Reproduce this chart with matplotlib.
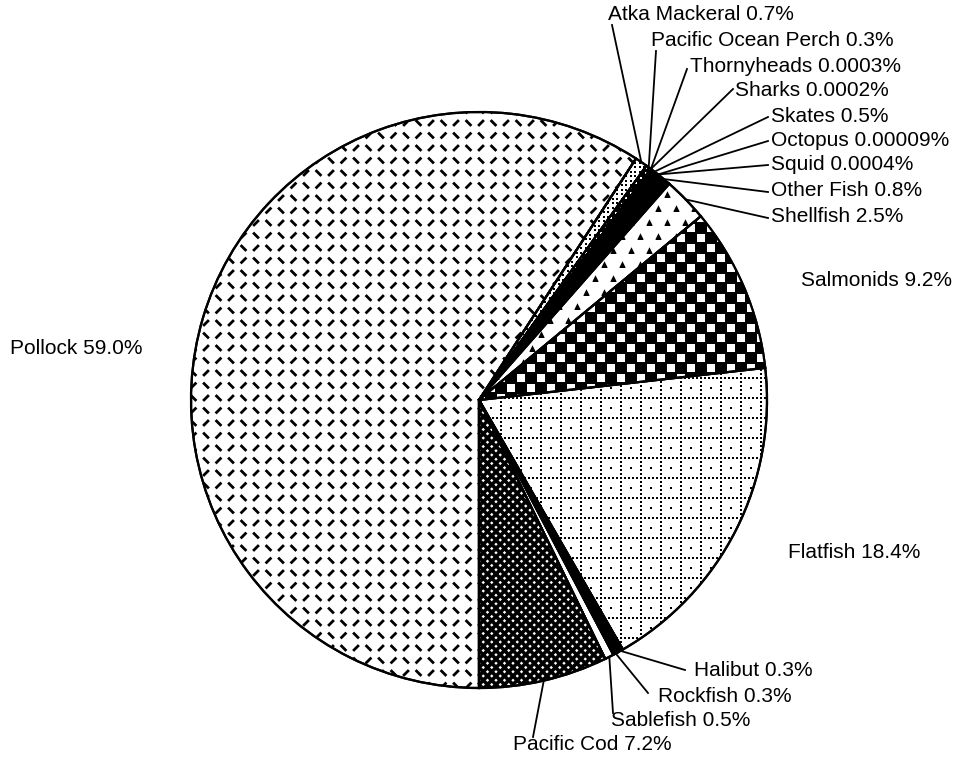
import numpy as np
import matplotlib
matplotlib.use("Agg")
import matplotlib.pyplot as plt
from matplotlib.patches import Wedge
from matplotlib.collections import LineCollection

# ---------------- data ----------------
categories = ["Pollock", "Atka Mackeral", "Pacific Ocean Perch", "Thornyheads",
              "Sharks", "Skates", "Octopus", "Squid", "Other Fish", "Shellfish",
              "Salmonids", "Flatfish", "Halibut", "Rockfish", "Sablefish",
              "Pacific Cod"]
shares = [59.0, 0.7, 0.3, 0.0003, 0.0002, 0.5, 0.00009, 0.0004, 0.8, 2.5,
          9.2, 18.4, 0.3, 0.3, 0.5, 7.2]
share_text = ["59.0%", "0.7%", "0.3%", "0.0003%", "0.0002%", "0.5%", "0.00009%",
              "0.0004%", "0.8%", "2.5%", "9.2%", "18.4%", "0.3%", "0.3%", "0.5%",
              "7.2%"]

# ---------------- layout (pixel coords, y from top) ----------------
W, H = 956, 762
CX, CY, R = 479, H - 400, 288
label_layout = {
    "Pollock": (10, 349, None),
    "Atka Mackeral": (608, 14, (612, 25)),
    "Pacific Ocean Perch": (651, 41, (656, 51)),
    "Thornyheads": (690, 67, (687, 69)),
    "Sharks": (735, 91, (733, 89)),
    "Skates": (771, 117, (768, 117)),
    "Octopus": (771, 141, (768, 141)),
    "Squid": (771, 165, (768, 165)),
    "Other Fish": (771, 191, (768, 192)),
    "Shellfish": (771, 217, (768, 218)),
    "Salmonids": (801, 280, None),
    "Flatfish": (788, 553, None),
    "Halibut": (694, 671, (685, 670)),
    "Rockfish": (658, 696, (648, 693)),
    "Sablefish": (611, 720, (613, 713)),
    "Pacific Cod": (513, 745, (533, 737)),
}
face = {
    "Pollock": "white", "Atka Mackeral": "white", "Pacific Ocean Perch": "black",
    "Thornyheads": "black", "Sharks": "black", "Skates": "black",
    "Octopus": "black", "Squid": "black", "Other Fish": "black",
    "Shellfish": "white", "Salmonids": "black", "Flatfish": "white",
    "Halibut": "black", "Rockfish": "black", "Sablefish": "white",
    "Pacific Cod": "white",
}

fig = plt.figure(figsize=(W / 100, H / 100), dpi=100)
ax = fig.add_axes([0, 0, 1, 1])
wedges, _ = ax.pie(shares, startangle=-90, counterclock=False, center=(CX, CY),
                   radius=R, colors=[face[c] for c in categories],
                   wedgeprops=dict(edgecolor="black", linewidth=1.6))
ax.set_xlim(0, W)
ax.set_ylim(0, H)
ax.set_aspect("equal")
ax.axis("off")

wmap = dict(zip(categories, wedges))
x0, x1 = CX - R - 10, CX + R + 10
y0, y1 = CY - R - 10, CY + R + 10


def grid(step, offset=0.0):
    xs = np.arange(x0, x1, step) + offset
    ys = np.arange(y0, y1, step) + offset
    return np.meshgrid(xs, ys)


# Pollock: alternating short dashes
s = 12.5
L = 2.9
segs = []
for i, x in enumerate(np.arange(x0, x1, s)):
    for j, y in enumerate(np.arange(y0, y1, s)):
        d = 1 if (i + j) % 2 == 0 else -1
        segs.append([(x - L, y - L * d), (x + L, y + L * d)])
lc = LineCollection(segs, colors="black", linewidths=2.0, zorder=2)
lc.set_clip_path(wmap["Pollock"])
ax.add_collection(lc)

# Salmonids: black with white checker squares
gx, gy = grid(10.0)
ii = np.round((gx - x0) / 10).astype(int)
jj = np.round((gy - y0) / 10).astype(int)
m = (ii + jj) % 2 == 0
sc = ax.scatter(gx[m], gy[m], marker="s", s=28, color="white", linewidths=0, zorder=2)
sc.set_clip_path(wmap["Salmonids"])

# Flatfish: dotted grid with center dots
pts = []
step = 20.0
for y in np.arange(y0, y1, step):
    for x in np.arange(x0, x1, 4.0):
        pts.append((x, y))
for x in np.arange(x0, x1, step):
    for y in np.arange(y0, y1, 4.0):
        pts.append((x, y))
for x in np.arange(x0 + step / 2, x1, step):
    for y in np.arange(y0 + step / 2, y1, step):
        pts.append((x, y))
pts = np.array(pts)
sc = ax.scatter(pts[:, 0], pts[:, 1], marker="s", s=2.4, color="black", linewidths=0, zorder=2)
sc.set_clip_path(wmap["Flatfish"])

# Pacific Cod: dense cross-hatch
segs = []
sp = 8.5
for c in np.arange(-2 * R - 40, 2 * R + 40, sp):
    segs.append([(x0, CY + c - (CX - x0)), (x1, CY + c + (x1 - CX))])
    segs.append([(x0, CY + c + (CX - x0)), (x1, CY + c - (x1 - CX))])
lc = LineCollection(segs, colors="black", linewidths=2.6, zorder=2)
lc.set_clip_path(wmap["Pacific Cod"])
ax.add_collection(lc)

# Shellfish: small chevrons
pts = []
for j, y in enumerate(np.arange(y0, y1, 14.0)):
    off = 9.0 if j % 2 else 0.0
    for x in np.arange(x0 + off, x1, 18.0):
        pts.append((x, y))
pts = np.array(pts)
sc = ax.scatter(pts[:, 0], pts[:, 1], marker="^", s=22, color="black", linewidths=0, zorder=2)
sc.set_clip_path(wmap["Shellfish"])

# Atka Mackeral: fine dots
gx, gy = grid(4.5)
sc = ax.scatter(gx.ravel(), gy.ravel(), marker="s", s=1.8, color="black", linewidths=0, zorder=2)
sc.set_clip_path(wmap["Atka Mackeral"])

# Pacific Ocean Perch: black with white dots
gx, gy = grid(5.0)
sc = ax.scatter(gx.ravel(), gy.ravel(), marker="s", s=2.5, color="white", linewidths=0, zorder=2)
sc.set_clip_path(wmap["Pacific Ocean Perch"])

# outlines on top
for w in wedges:
    ax.add_patch(Wedge((CX, CY), R, w.theta1, w.theta2, fill=False,
                       edgecolor="black", linewidth=1.6, zorder=5))

# labels and leader lines
for cat, txt, w in zip(categories, share_text, wedges):
    tx, ty, lead = label_layout[cat]
    ax.text(tx, H - ty, f"{cat} {txt}", ha="left", va="center", fontsize=15,
            family=["Liberation Sans", "DejaVu Sans"], zorder=6)
    if lead is not None:
        a = np.deg2rad((w.theta1 + w.theta2) / 2)
        ex, ey = CX + R * np.cos(a), CY + R * np.sin(a)
        ax.plot([ex, lead[0]], [ey, H - lead[1]], color="black", linewidth=1.3, zorder=6)

fig.savefig("out.png", dpi=100, facecolor="white")
